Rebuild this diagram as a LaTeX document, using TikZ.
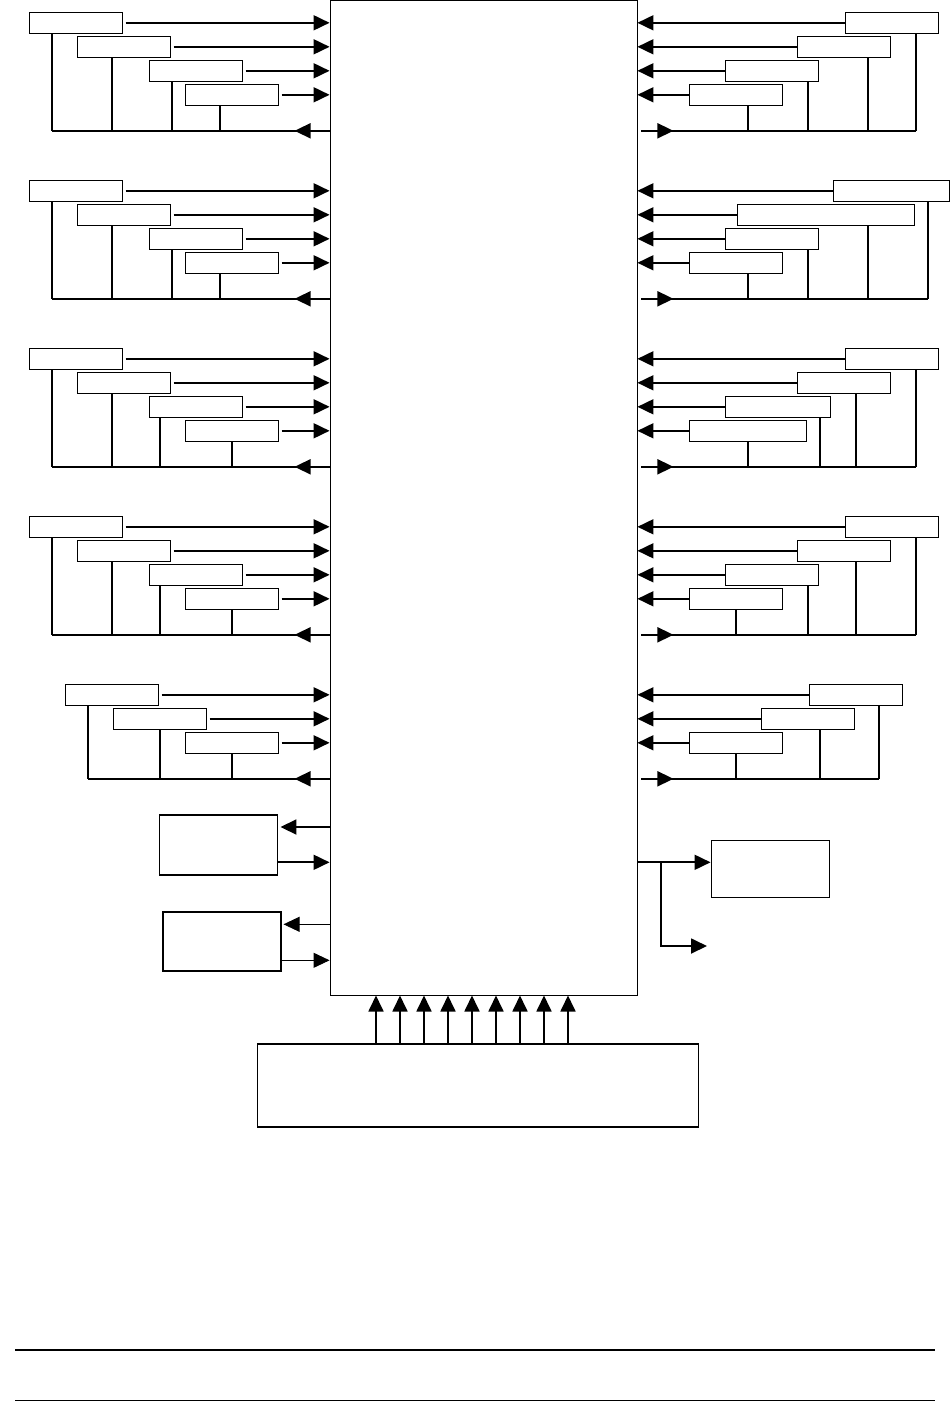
\documentclass[tikz,border=0pt]{standalone}
\usepackage{tikz}
\usetikzlibrary{arrows.meta}

\begin{document}
\begin{tikzpicture}[x=1pt, y=-1pt,
    sigbox/.style={draw, line width=0.9pt, minimum width=93pt, minimum height=21pt, inner sep=0pt, anchor=west},
    unitbox/.style={draw, line width=1.5pt, inner sep=0pt},
    wire/.style={line width=1.8pt},
    thinwire/.style={line width=0.9pt},
    tip/.style={-{Triangle[length=16pt, width=15pt]}}]
  \useasboundingbox (0,0) rectangle (951,1401);
  % central block
  \node[draw, line width=0.9pt, minimum width=307pt, minimum height=994.5pt, inner sep=0pt] (main) at (483.5, 497.8) {};

  % bus rows of the five groups
  \foreach \g/\by in {0/130.8, 1/298.8, 2/466.8, 3/634.8, 4/778.8} {
    \coordinate (lbus\g) at (0,\by);
    \coordinate (rbus\g) at (951,\by);
  }

  % left-hand boxes: group/row/left edge/drop
  \foreach \g/\r/\lx/\dx in {0/0/29.3/51.7, 0/1/77.3/111.7, 0/2/149.3/171.7, 0/3/185.3/219.7,
                             1/0/29.3/51.7, 1/1/77.3/111.7, 1/2/149.3/171.7, 1/3/185.3/219.7,
                             2/0/29.3/51.7, 2/1/77.3/111.7, 2/2/149.3/160, 2/3/185.3/231.7,
                             3/0/29.3/51.7, 3/1/77.3/111.7, 3/2/149.3/160, 3/3/185.3/231.7,
                             4/0/65.3/87.7, 4/1/113.3/160, 4/2/185.3/231.7} {
    \node[sigbox] (l\g\r) at (\lx, {22.8+168*\g+24*\r}) {};
    \coordinate (ld\g\r) at (\dx,0 |- lbus\g);
    \draw[wire, tip, shorten <=2.5pt] (l\g\r.east) -- (l\g\r.east -| main.west);
    \draw[wire] (l\g\r.south -| ld\g\r) -- (ld\g\r);
  }

  % right-hand boxes: group/row/left edge/width/drop
  \foreach \g/\r/\lx/\w/\dx in {0/0/845.3/93/916, 0/1/797.3/93/868, 0/2/725.3/93/808, 0/3/689.3/93/748,
                                1/0/833.3/116/927.7, 1/1/737.3/177/868, 1/2/725.3/93/808, 1/3/689.3/93/748,
                                2/0/845.3/93/916, 2/1/797.3/93/856.3, 2/2/725.3/105/819.7, 2/3/689.3/117/748,
                                3/0/845.3/93/916, 3/1/797.3/93/856.3, 3/2/725.3/93/808, 3/3/689.3/93/736,
                                4/0/809.3/93/879.3, 4/1/761.3/93/820, 4/2/689.3/93/736} {
    \node[sigbox, minimum width=\w pt] (r\g\r) at (\lx, {22.8+168*\g+24*\r}) {};
    \coordinate (rd\g\r) at (\dx,0 |- rbus\g);
    \draw[wire, tip] (r\g\r.west) -- (r\g\r.west -| main.east);
    \draw[wire] (r\g\r.south -| rd\g\r) -- (rd\g\r);
  }

  % the buses back out of the block
  \foreach \g in {0,...,4} {
    \draw[wire] (ld\g0) -- (lbus\g -| main.west);
    \draw[wire, tip] (lbus\g -| main.west) -- ++(-35,0);
    \draw[wire, shorten <=4pt] (rbus\g -| main.east) -- (rd\g0);
    \draw[wire, tip, shorten <=4pt] (rbus\g -| main.east) -- ++(36,0);
  }

  % small units below
  \node[unitbox, minimum width=118pt, minimum height=60pt] (pbox) at (218.7, 844.9) {};
  \node[unitbox, minimum width=118pt, minimum height=59pt] (qbox) at (221.8, 941.7) {};
  \node[draw, line width=0.9pt, inner sep=0pt, minimum width=118pt, minimum height=57pt] (rbox) at (770, 868.5) {};
  \node[unitbox, minimum width=441pt, minimum height=83pt] (sbox) at (477.8, 1085.7) {};

  \draw[wire, tip, shorten >=2pt] (main.west |- 0,827) -- (pbox.east |- 0,827);
  \draw[wire, tip] (pbox.east |- 0,862.3) -- (main.west |- 0,862.3);
  \draw[thinwire, tip, shorten >=2pt] (main.west |- 0,924.3) -- (qbox.east |- 0,924.3);
  \draw[thinwire, tip] (qbox.east |- 0,960.3) -- (main.west |- 0,960.3);

  \draw[wire, tip] (main.east |- 0,862.3) -- (rbox.west |- 0,862.3);
  \coordinate (branch) at (660.9, 862.3);
  \coordinate (spare) at (707, 946);
  \draw[wire, tip] (branch) |- (spare);

  % inputs from the bottom unit
  \foreach \ax in {376,400,...,568} {
    \draw[wire, tip] (\ax,0 |- sbox.north) -- (\ax,0 |- main.south);
  }

  % page rules
  \draw[line width=1.5pt] (15,1350) -- (935,1350);
  \draw[line width=0.8pt] (15,1400) -- (935,1400);
\end{tikzpicture}
\end{document}
